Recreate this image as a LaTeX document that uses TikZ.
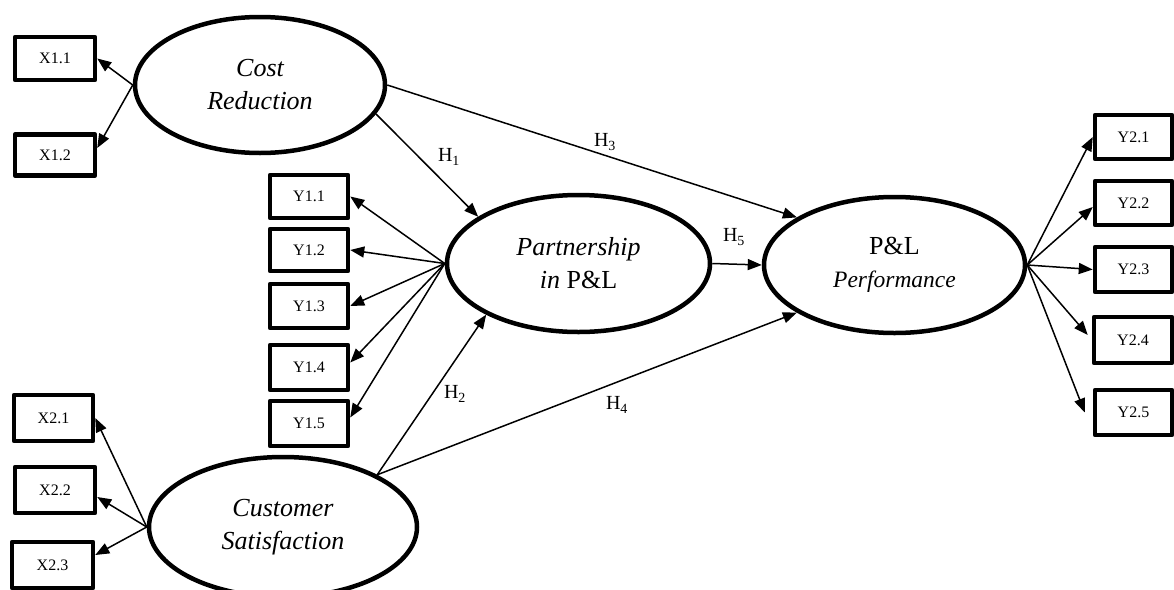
\documentclass[tikz,border=0pt]{standalone}
\usepackage{fontspec}
\setmainfont{Liberation Serif}
\usetikzlibrary{shapes.geometric,arrows.meta}
\begin{document}
\begin{tikzpicture}[x=1pt,y=-1pt,
  lat/.style={ellipse, draw, line width=4.5pt, inner sep=0pt, align=center,
    font=\fontsize{26}{33}\selectfont\itshape},
  ind/.style={draw, line width=4.5pt, inner sep=0pt, line join=round,
    font=\fontsize{16}{18}\selectfont},
  arr/.style={-{Triangle[length=14pt,width=11pt]}, line width=1.5pt},
  hlab/.style={font=\fontsize{20}{24}\selectfont, inner sep=0pt}]
\useasboundingbox (0,0) rectangle (1174,589);

% latent variables
\node[lat, minimum width=250pt, minimum height=136pt] (cr) at (260,85) {Cost\\Reduction};
\node[lat, minimum width=263pt, minimum height=137pt] (pl) at (578.5,263.5) {Partnership\\in {\upshape P\&L}};
\node[lat, minimum width=261pt, minimum height=136pt] (pf) at (894.5,265)
  {{\upshape\fontsize{26}{29}\selectfont P\&L}\\{\fontsize{23.5}{29}\selectfont Performance}};
\node[lat, minimum width=268pt, minimum height=140pt] (cs) at (283,527) {Customer\\Satisfaction};

% indicators
\node[ind, minimum width=80pt, minimum height=43pt] (x11) at (55,58.5) {X1.1};
\node[ind, minimum width=80pt, minimum height=41pt] (x12) at (55,155) {X1.2};

\node[ind, minimum width=78pt, minimum height=43pt] (y11) at (309,196.5) {Y1.1};
\node[ind, minimum width=78pt, minimum height=42pt] (y12) at (309,250) {Y1.2};
\node[ind, minimum width=78pt, minimum height=44pt] (y13) at (309,306) {Y1.3};
\node[ind, minimum width=78pt, minimum height=45pt] (y14) at (309,367.5) {Y1.4};
\node[ind, minimum width=78pt, minimum height=45pt] (y15) at (309,423.5) {Y1.5};

\node[ind, minimum width=79pt, minimum height=46pt] (x21) at (53.5,418) {X2.1};
\node[ind, minimum width=80pt, minimum height=46pt] (x22) at (55,490) {X2.2};
\node[ind, minimum width=81pt, minimum height=46pt] (x23) at (52.5,565) {X2.3};

\node[ind, minimum width=77pt, minimum height=44pt] (y21) at (1133.5,137) {Y2.1};
\node[ind, minimum width=77pt, minimum height=44pt] (y22) at (1133.5,203) {Y2.2};
\node[ind, minimum width=77pt, minimum height=45pt] (y23) at (1133.5,269.5) {Y2.3};
\node[ind, minimum width=78pt, minimum height=46pt] (y24) at (1133,340) {Y2.4};
\node[ind, minimum width=77pt, minimum height=45pt] (y25) at (1133.5,412.5) {Y2.5};

% measurement arrows
\draw[arr] (cr.west) -- (x11.east);
\draw[arr] (cr.west) -- ([yshift=7pt]x12.east);

\draw[arr] (pl.west) -- (y11.east);
\draw[arr] (pl.west) -- (y12.east);
\draw[arr] (pl.west) -- (y13.east);
\draw[arr] (pl.west) -- ([yshift=5pt]y14.east);
\draw[arr] (pl.west) -- ([yshift=6pt]y15.east);

\draw[arr] (cs.west) -- (x21.east);
\draw[arr] (cs.west) -- ([yshift=-7pt]x22.east);
\draw[arr] (cs.west) -- ([yshift=10pt]x23.east);

\draw[arr] (pf.east) -- (y21.west);
\draw[arr] (pf.east) -- ([yshift=-4pt]y22.west);
\draw[arr] (pf.east) -- (y23.west);
\draw[arr] (pf.east) -- ([xshift=-4pt,yshift=5pt]y24.west);
\draw[arr] (pf.east) -- ([xshift=-8pt]y25.west);

% structural paths
\draw[arr] (cr.-14) -- (pl.155);
\draw[arr] (cr.east) -- (pf.154);
\draw[arr] (pl.east) -- (pf.west);
\draw[arr] (cs.29) -- (pl.209);
\draw[arr] (cs.29) -- (pf.206);

% path labels
\node[hlab] (h1) at (449,157) {H\textsubscript{1}};
\node[hlab] (h3) at (605,142) {H\textsubscript{3}};
\node[hlab] (h5) at (734,237) {H\textsubscript{5}};
\node[hlab] (h2) at (455,394) {H\textsubscript{2}};
\node[hlab] (h4) at (617,405) {H\textsubscript{4}};
\end{tikzpicture}
\end{document}
